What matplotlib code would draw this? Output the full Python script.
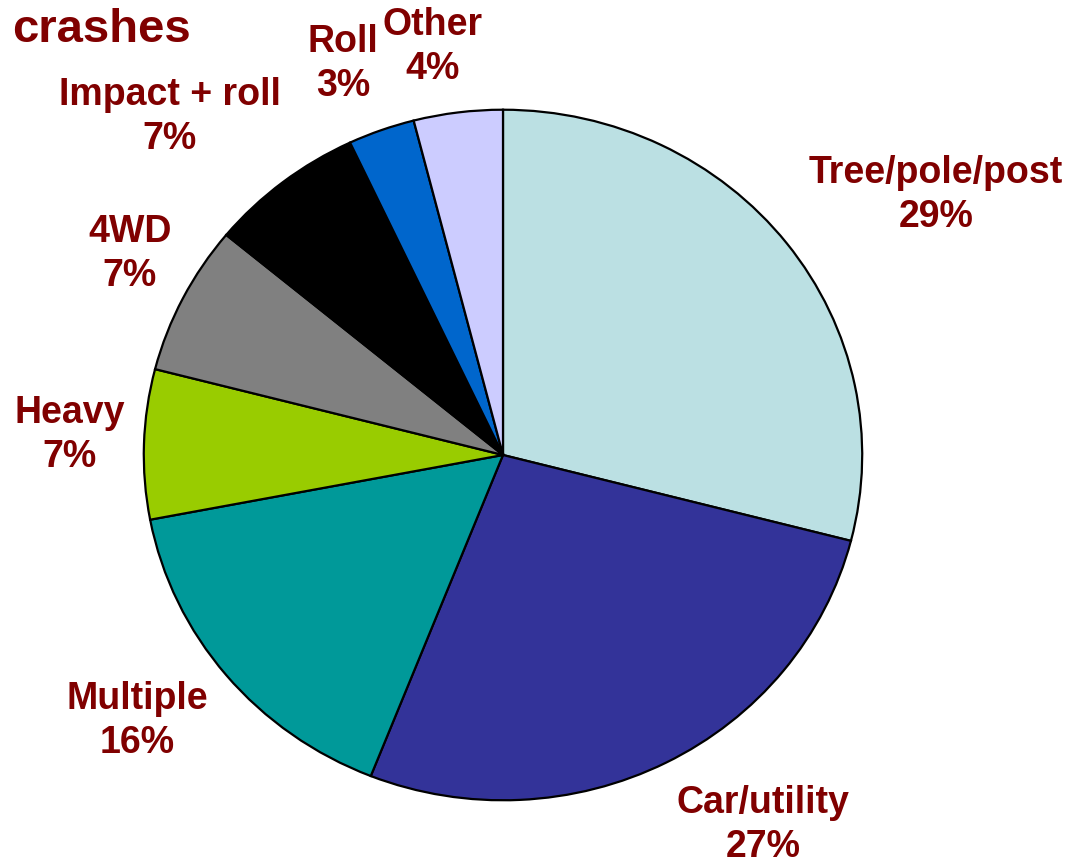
import matplotlib
matplotlib.use("Agg")
import matplotlib.pyplot as plt

# Crash types and their share of crashes (%)
categories = ["Tree/pole/post", "Car/utility", "Multiple", "Heavy",
              "4WD", "Impact + roll", "Roll", "Other"]
shares = [29, 27, 16, 7, 7, 7, 3, 4]
colors = ["#BBE0E3", "#333399", "#009999", "#99CC00",
          "#808080", "#000000", "#0066CC", "#CCCCFF"]

# Label anchor positions in figure pixels (x, y from top)
label_pos = [(936, 195), (763, 825), (137, 721), (70, 435),
             (130, 254), (170, 117), (343, 64), (433, 47)]

W, H = 1070, 864
plt.rcParams["font.family"] = ["Liberation Sans", "DejaVu Sans"]
fig = plt.figure(figsize=(W / 100, H / 100), dpi=100)
fig.patch.set_facecolor("white")

cx, cy, rx, ry = 503, 455, 361, 347
ax = fig.add_axes([(cx - rx) / W, (H - cy - ry) / H, 2 * rx / W, 2 * ry / H])
ax.pie(shares, colors=colors, startangle=90, counterclock=False,
       wedgeprops=dict(edgecolor="black", linewidth=1.6))
ax.set_aspect("auto")
ax.set_xlim(-1.005, 1.005)
ax.set_ylim(-1.005, 1.005)
ax.axis("off")

label_color = "#800000"
for name, pct, (x, y) in zip(categories, shares, label_pos):
    fig.text(x / W, 1 - y / H, f"{name}\n{pct}%", ha="center", va="center",
             fontsize=27, fontweight="bold", color=label_color,
             linespacing=1.32)

fig.text(12 / W, 1 - 30 / H, "crashes", ha="left", va="center",
         fontsize=34, fontweight="bold", color=label_color)

fig.savefig("out.png", dpi=100)
